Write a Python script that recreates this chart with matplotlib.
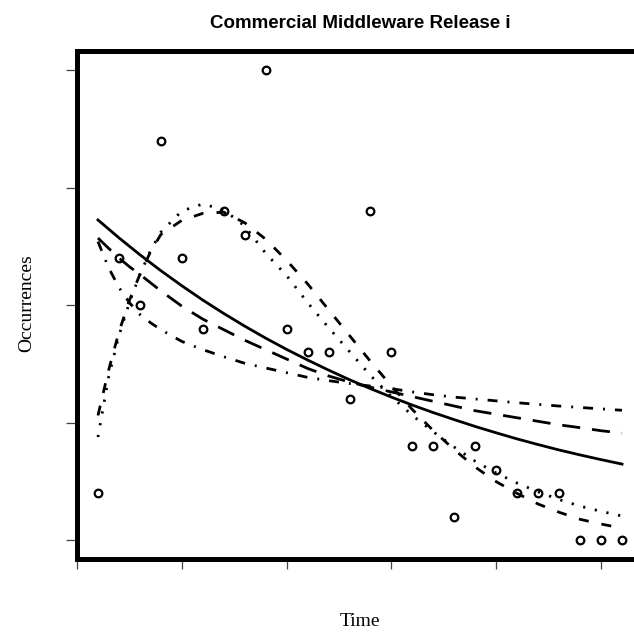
import matplotlib
matplotlib.use("Agg")
import matplotlib.pyplot as plt

# observed occurrences per time period
time_obs = list(range(1, 27))
occurrences = [2, 12, 10, 17, 12, 9, 14, 13, 20, 9, 8, 8, 6, 14, 8, 4, 4, 1, 4, 3, 2, 2, 2, 0, 0, 0]

# fitted model curves
t_fit = [1, 1.5, 2, 2.5, 3, 3.5, 4, 5, 6, 7, 8, 9, 10, 11, 12, 13, 14, 15, 16, 17,
         18, 19, 20, 21, 22, 23, 24, 25, 26]
fit_solid = [13.62, 13.24, 12.86, 12.5, 12.14, 11.8, 11.46, 10.82, 10.21, 9.64, 9.10, 8.59,
             8.11, 7.66, 7.23, 6.82, 6.44, 6.08, 5.74, 5.42, 5.12, 4.83, 4.56, 4.30, 4.06,
             3.83, 3.62, 3.42, 3.23]
fit_longdash = [12.85, 12.42, 12.0, 11.63, 11.3, 10.95, 10.6, 9.95, 9.4, 8.95, 8.5, 8.1,
                7.7, 7.3, 6.98, 6.72, 6.5, 6.3, 6.1, 5.9, 5.7, 5.5, 5.35, 5.2, 5.05, 4.9,
                4.78, 4.65, 4.55]
fit_dotdash = [12.7, 11.6, 10.75, 10.1, 9.6, 9.25, 8.95, 8.45, 8.1, 7.8, 7.52, 7.32, 7.12,
               6.92, 6.78, 6.66, 6.55, 6.44, 6.3, 6.18, 6.08, 6.0, 5.92, 5.84, 5.77, 5.7,
               5.64, 5.58, 5.52]
fit_dashed = [5.3, 7.2, 8.85, 10.2, 11.3, 12.25, 13.0, 13.6, 13.9, 13.95, 13.5, 12.8, 11.9,
              10.9, 9.8, 8.7, 7.6, 6.55, 5.55, 4.65, 3.84, 3.1, 2.48, 1.98, 1.53, 1.18,
              0.88, 0.68, 0.5]
fit_dotted = [4.38, 6.9, 8.7, 10.1, 11.3, 12.3, 13.1, 14.0, 14.3, 14.05, 13.36, 12.2, 11.25,
              10.1, 9.04, 8.02, 7.0, 6.1, 5.3, 4.6, 3.95, 3.35, 2.85, 2.42, 2.05, 1.72,
              1.44, 1.22, 1.02]

x_ticks = [0, 5, 10, 15, 20, 25]
y_ticks = [0, 5, 10, 15, 20]

W, H = 634, 637
fig = plt.figure(figsize=(W / 100, H / 100), dpi=100)
fig.patch.set_facecolor("white")

ax = fig.add_axes([77 / W, (H - 558.8) / H, 566 / W, (558.8 - 51.2) / H])
ax.set_xlim(0, 27)
ax.set_ylim(-0.8, 20.8)

lw = 2.0
ax.plot(t_fit, fit_solid, color="black", lw=lw, linestyle="-")
ax.plot(t_fit, fit_longdash, color="black", lw=lw, linestyle=(0, (6.5, 4.3)))
ax.plot(t_fit, fit_dotdash, color="black", lw=lw, linestyle=(0, (3.6, 3.6, 0.7, 3.6)))
ax.plot(t_fit, fit_dashed, color="black", lw=lw, linestyle=(0, (3.6, 4.7)))
ax.plot(t_fit, fit_dotted, color="black", lw=lw, linestyle=(0, (0.8, 3.5)))

ax.plot(time_obs, occurrences, linestyle="none", marker="o", ms=5.5,
        mfc="none", mec="black", mew=1.6, clip_on=False, zorder=5)

for s in ax.spines.values():
    s.set_linewidth(3.6)
    s.set_color("black")

ax.set_xticks(x_ticks)
ax.set_yticks(y_ticks)
ax.set_xticklabels([])
ax.set_yticklabels([])
ax.tick_params(axis="x", direction="out", length=7.5, width=0.9, color="#444444")
ax.tick_params(axis="y", direction="out", length=8, width=0.9, color="#444444")

fig.text(360 / W, 1 - 23 / H, "Commercial Middleware Release i", ha="center", va="center",
         fontsize=13.5, fontweight="bold", family=["Liberation Sans", "DejaVu Sans"])
fig.text(360 / W, 1 - 622 / H, "Time", ha="center", va="center",
         fontsize=14, family=["Liberation Serif", "DejaVu Serif"])
fig.text(27 / W, 1 - 303 / H, "Occurrences", ha="center", va="center", rotation=90,
         fontsize=14, family=["Liberation Serif", "DejaVu Serif"])

fig.savefig("out.png", dpi=100, facecolor="white")
